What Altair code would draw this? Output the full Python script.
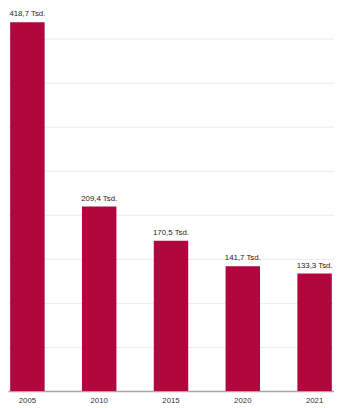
import altair as alt
import pandas as pd

years = ["2005", "2010", "2015", "2020", "2021"]
values = [418.7, 209.4, 170.5, 141.7, 133.3]
labels = [f"{v:.1f}".replace(".", ",") + " Tsd." for v in values]

df = pd.DataFrame({"year": years, "value": values, "label": labels})

base = alt.Chart(df).encode(
    x=alt.X("year:N", sort=years, title=None,
            scale=alt.Scale(paddingInner=0.52, paddingOuter=0.03),
            axis=alt.Axis(labelAngle=0, labelFontSize=8, labelColor="#333333",
                          labelFont="Liberation Sans", domainColor="#a6a6a6",
                          domainWidth=1.5, ticks=False, labelPadding=6)),
)

bars = base.mark_bar(color="#b2063e").encode(
    y=alt.Y("value:Q", title=None,
            scale=alt.Scale(domain=[0, 430], nice=False),
            axis=alt.Axis(values=[50, 100, 150, 200, 250, 300, 350, 400],
                          labels=False, ticks=False, domain=False,
                          grid=True, gridColor="#ececec", gridWidth=1)),
)

text = base.mark_text(baseline="bottom", dy=-4, fontSize=8,
                      font="Liberation Sans", color="#222222").encode(
    y=alt.Y("value:Q"),
    text="label:N",
)

chart = (bars + text).properties(
    width=333, height=387,
    autosize=alt.AutoSizeParams(type="none"),
    padding={"left": 0, "top": 0, "right": 0, "bottom": 13},
).configure_view(stroke=None)

chart.save("out.html", embed_options={"renderer": "svg", "actions": False})
